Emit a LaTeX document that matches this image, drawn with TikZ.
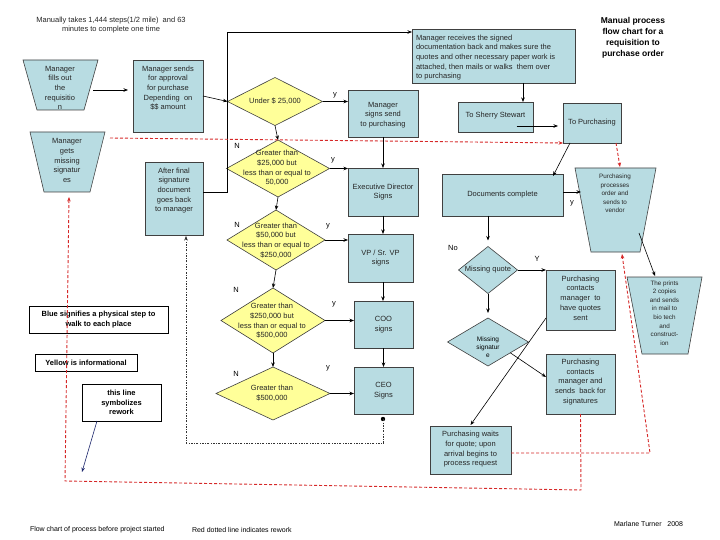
\documentclass[tikz,border=0pt]{standalone}
\usepackage{fontspec}
\setmainfont{Liberation Sans}
\usetikzlibrary{shapes.geometric,arrows.meta,calc}
\definecolor{bl}{RGB}{184,220,226}
\definecolor{yl}{RGB}{255,255,153}
\definecolor{rw}{RGB}{214,40,40}
\definecolor{nv}{RGB}{30,40,110}
\begin{document}
\begin{tikzpicture}[x=1pt,y=-1pt,
  every node/.style={inner sep=0pt, outer sep=0pt},
  txt/.style={font=\fontsize{7.5}{9.7}\selectfont, align=center, text=black!85},
  small/.style={font=\fontsize{6.3}{8.6}\selectfont, align=center, text=black!85},
  btxt/.style={font=\bfseries\fontsize{7.5}{9.7}\selectfont, align=center},
  bbox/.style={draw=black!75, fill=bl, line width=0.6pt},
  ydia/.style={diamond, draw=black!75, fill=yl, line width=0.6pt},
  bdia/.style={diamond, draw=black!75, fill=bl, line width=0.6pt},
  lbox/.style={draw=black, fill=white, line width=0.8pt},
  arr/.style={draw=black, -{Stealth[length=4.5pt,width=3.5pt]}, line width=0.6pt},
  rwk/.style={draw=rw, line width=0.9pt, dash pattern=on 3pt off 2pt},
  rarr/.style={rwk, -{Stealth[length=4.5pt,width=3.5pt]}},
  dd/.style={draw=black!80, line width=0.5pt, dash pattern=on 2pt off 1.5pt on 0.5pt off 1.5pt},
  lab/.style={font=\fontsize{7.5}{9}\selectfont}
]
\fill[white] (0,0) rectangle (720,540);
\useasboundingbox (0,0) rectangle (720,540);

% titles
\node[txt] (title) at (111,25) {Manually takes 1,444 steps(1/2 mile)\ \ and 63\\minutes to complete one time};
\node[font=\bfseries\fontsize{8.5}{11}\selectfont, align=center] (rtitle) at (633,38) {Manual process\\flow chart for a\\requisition to\\purchase order};

% left column
\draw[bbox] (23,60) -- (98,60) -- (84,110) -- (37,110) -- cycle;
\node[txt] (t1) at (60,88) {Manager\\fills out\\the\\requisitio\\n};
\coordinate (t1r) at (93,90);
\node[bbox, minimum width=70pt, minimum height=72pt] (b2) at (168,96) {};
\node[txt] (b2t) at (168,88) {Manager sends\\for approval\\for purchase\\Depending\ \ on\\\$\$ amount};

\draw[bbox] (30,132) -- (105,132) -- (90,192) -- (44,192) -- cycle;
\node[txt] (t2) at (67,160.5) {Manager\\gets\\missing\\signatur\\es};
\coordinate (t2ne) at (110,138);
\coordinate (t2b) at (69,197);

\node[bbox, minimum width=58pt, minimum height=73pt] (af) at (174,198.5) {};
\node[txt] (aft) at (174,190.5) {After final\\signature\\document\\goes back\\to manager};

% legend
\node[lbox, minimum width=139pt, minimum height=27pt] (lb1) at (98.5,319.5) {};
\node[btxt] (lb1t) at (98.5,319.5) {Blue signifies a physical step to\\walk to each place};
\node[lbox, minimum width=102pt, minimum height=17pt] (lb2) at (86,362.5) {};
\node[btxt] (lb2t) at (86,362.5) {Yellow is informational};
\node[lbox, minimum width=79pt, minimum height=37pt] (lb3) at (121.5,402.5) {};
\node[btxt] (lb3t) at (121.5,402.5) {this line\\symbolizes\\rework};
\coordinate (nvend) at (82,472);

% middle column
\node[ydia, minimum width=95pt, minimum height=48pt] (d1) at (275,101.5) {};
\node[txt] (d1t) at (275,101.5) {Under \$ 25,000};
\node[ydia, minimum width=103pt, minimum height=57pt] (d2) at (278,168.5) {};
\node[txt] (d2t) at (277,168) {Greater than\\\$25,000 but\\less than or equal to\\50,000};
\node[ydia, minimum width=98pt, minimum height=60pt] (d3) at (276,240) {};
\node[txt] (d3t) at (276,240.5) {Greater than\\\$50,000 but\\less than or equal to\\\$250,000};
\node[ydia, minimum width=104pt, minimum height=65pt] (d4) at (273,320.5) {};
\node[txt] (d4t) at (272,321) {Greater than\\\$250,000 but\\less than or equal to\\\$500,000};
\node[ydia, minimum width=114pt, minimum height=53pt] (d5) at (273,393.5) {};
\node[txt] (d5t) at (272,393) {Greater than\\\$500,000};

\node[bbox, minimum width=70pt, minimum height=47pt] (ms) at (383,113.5) {};
\node[txt] (mst) at (383,115) {Manager\\signs send\\to purchasing};
\node[bbox, minimum width=70pt, minimum height=48pt] (ex) at (383,192) {};
\node[txt] (ext) at (383,192) {Executive Director\\Signs};
\node[bbox, minimum width=65pt, minimum height=48pt] (vp) at (380.5,258) {};
\node[txt] (vpt) at (380.5,258) {VP / Sr. VP\\signs};
\node[bbox, minimum width=59pt, minimum height=47pt] (coo) at (383.5,324.5) {};
\node[txt] (coot) at (383.5,325) {COO\\signs};
\node[bbox, minimum width=59pt, minimum height=47pt] (ceo) at (383.5,390.5) {};
\node[txt] (ceot) at (383.5,391) {CEO\\Signs};
\coordinate (cdot) at (383,419);

% labels
\node[lab] (y1) at (335,95) {y};
\node[lab] (n2) at (237,146) {N};
\node[lab] (y2) at (333,160) {y};
\node[lab] (n3) at (237,225) {N};
\node[lab] (y3) at (328,226) {y};
\node[lab] (n4) at (236,290) {N};
\node[lab] (y4) at (334,304) {y};
\node[lab] (n5) at (236,374) {N};
\node[lab] (y5) at (328,368) {y};

% right part
\node[bbox, minimum width=163pt, minimum height=54pt] (mr) at (493.5,56) {};
\node[txt, align=left, anchor=west] (mrt) at (416,57.5) {Manager receives the signed\\documentation back and makes sure the\\quotes and other necessary paper work is\\attached, then mails or walks\ \ them over\\to purchasing};
\node[bbox, minimum width=75pt, minimum height=30pt] (sh) at (495.5,117) {};
\node[txt] (sht) at (495.5,116) {To Sherry Stewart};
\node[bbox, minimum width=58pt, minimum height=40pt] (tp) at (592,123) {};
\node[txt] (tpt) at (592,123) {To Purchasing};

\node[bbox, minimum width=121pt, minimum height=42pt] (dc) at (502.5,195) {};
\node[txt] (dct) at (502.5,195) {Documents complete};

\draw[bbox] (575,168) -- (656,168) -- (640,252) -- (591,252) -- cycle;
\node[small] (ppt) at (615,193.5) {Purchasing\\processes\\order and\\sends to\\vendor};
\coordinate (ppl) at (581,192);
\coordinate (ppt1) at (620,167);
\coordinate (ppb) at (622,254);
\coordinate (ppr) at (639,233);

\draw[bbox] (627,277) -- (702,277) -- (688,354) -- (642,354) -- cycle;
\node[small] (tpp) at (664.5,313) {The prints\\2 copies\\and sends\\in mail to\\bio tech\\and\\construct-\\ion};
\coordinate (tppt) at (655,276);

\node[bdia, minimum width=59pt, minimum height=47pt] (mq) at (488,270) {};
\node[txt] (mqt) at (488,270) {Missing quote};
\node[bdia, minimum width=81pt, minimum height=48pt] (msg) at (488,342) {};
\node[font=\fontsize{6.5}{8.2}\selectfont, align=center] (msgt) at (488,347) {Missing\\signatur\\e};

\node[bbox, minimum width=69pt, minimum height=60pt] (pq) at (580.5,300) {};
\node[txt] (pqt) at (580.5,298) {Purchasing\\contacts\\manager\ \ to\\have quotes\\sent};
\node[bbox, minimum width=69pt, minimum height=60pt] (ps) at (580.5,384) {};
\node[txt] (pst) at (580.5,382) {Purchasing\\contacts\\manager and\\sends\ \ back for\\signatures};
\node[bbox, minimum width=81pt, minimum height=48pt] (pw) at (470.5,450) {};
\node[txt] (pwt) at (470.5,449.5) {Purchasing waits\\for quote; upon\\arrival begins to\\process request};

\node[lab] (no) at (453,248) {No};
\node[lab] (yy) at (537,259) {Y};
\node[lab] (ydc) at (572,203) {y};

% bottom
\node[font=\fontsize{7}{8}\selectfont, anchor=west] (foot1) at (30,530) {Flow chart of process before project started};
\node[font=\fontsize{7}{8}\selectfont, anchor=west] (foot2) at (192,530) {Red dotted line indicates rework};
\node[font=\fontsize{7}{8}\selectfont, anchor=east] (foot3) at (683,524) {Marlane Turner\ \ \ 2008};

% connectors
\draw[arr, shorten >=5pt] (t1r) -- (b2.west |- t1r);
\draw[arr] (b2.east) -- (d1.west);
\draw[arr] (af.east |- 0,192) -- (227,192) -- (227,32) -- (mr.west |- 0,32);
\draw[arr] (d1.east) -- (ms.west |- d1.east);
\draw[arr] (d1.south) -- (d2.north);
\draw[arr] (d2.east) -- (ex.west |- d2.east);
\draw[arr] (d2.south) -- (d3.north);
\draw[arr] (d3.east) -- (vp.west |- d3.east);
\draw[arr] (d3.south) -- (d4.north);
\draw[arr] (d4.east) -- (coo.west |- d4.east);
\draw[arr] (d4.south) -- (d5.north);
\draw[arr] (d5.east) -- (ceo.west |- d5.east);
\draw[arr] (ms.south) -- (ex.north);
\draw[arr] (ex.south) -- (ex.south |- vp.north);
\draw[arr] (ex.south |- vp.south) -- (ex.south |- coo.north);
\draw[arr] (coo.south) -- (ceo.south |- ceo.north);

\draw[arr] ($(mr.south)+(29.5,0)$) -- ($(sh.north)+(27.5,0)$);
\draw[arr, shorten >=5pt] ($(sh.center)+(21,9)$) -- (tp.west |- 0,126);
\draw[arr] ($(tp.south)+(-22,0)$) -- ($(dc.north east)+(-10,2)$);
\draw[arr] (dc.east |- ppl) -- (ppl);
\draw[arr, shorten >=6pt] (dc.south -| mq.north) -- (mq.north);
\draw[arr] (mq.east) -- (pq.north west);
\draw[arr, shorten >=5pt] (mq.south) -- (msg.north);
\draw[arr] ($(msg.east)!0.45!(msg.south)$) -- (ps.west |- 0,377);
\draw[arr] ($(pq.west)+(0,18)$) -- ($(pw.north)+(0,-1)$);
\draw[arr] (ppr) -- (tppt);

\draw[arr, draw=nv] ($(lb3.south west)+(15,0)$) -- (nvend);

% dash-dot rework line
\fill (cdot) circle (2.2pt);
\draw[dd, -{Stealth[length=4.5pt,width=3.5pt]}] (cdot) -- (383,443) -- (186,443) -- (186,236);

% red rework lines
\draw[rarr] (t2ne) -- (tp.south west);
\draw[rarr] ($(tp.south)+(24,0)$) -- (ppt1);
\draw[rarr] (ps.south) -- (581,490) -- (65,481) -- (t2b);
\draw[rarr] ($(pw.east)+(0,3)$) -- (650,453) -- (ppb);
\end{tikzpicture}
\end{document}
